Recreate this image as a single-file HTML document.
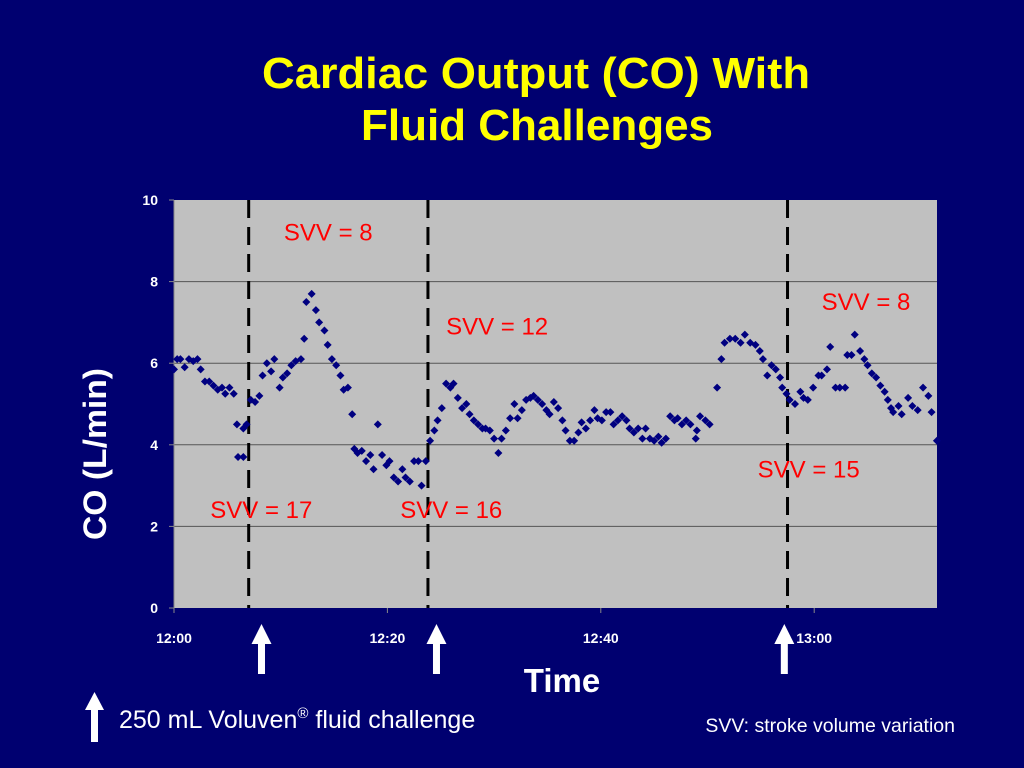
<!DOCTYPE html>
<html><head><meta charset="utf-8">
<style>
html,body{margin:0;padding:0;background:#000070;}
body{width:1024px;height:768px;overflow:hidden;position:relative;font-family:"Liberation Sans",Arial,sans-serif;}
</style></head>
<body>
<svg id="chart" width="1024" height="768" xmlns="http://www.w3.org/2000/svg" style="position:absolute;left:0;top:0">
<rect x="0" y="0" width="1024" height="768" fill="#000070"/>
<text x="536" y="88" fill="#ffff00" font-size="44" font-weight="bold" text-anchor="middle" textLength="548" lengthAdjust="spacingAndGlyphs">Cardiac Output (CO) With</text>
<text x="537" y="140" fill="#ffff00" font-size="44" font-weight="bold" text-anchor="middle">Fluid Challenges</text>
<rect x="174" y="200" width="763" height="408" fill="#c0c0c0"/>
<g id="grid"></g><g id="axes"></g><g id="vlines"></g><g id="points"></g><g id="ann"></g>
<text transform="translate(106,454) rotate(-90)" fill="#fff" font-size="32" font-weight="bold" text-anchor="middle" textLength="172" lengthAdjust="spacingAndGlyphs">CO (L/min)</text>
<text x="562" y="692" fill="#fff" font-size="33" font-weight="bold" text-anchor="middle">Time</text>
<g><rect x="91" y="708" width="7" height="34" fill="#fff"/><polygon points="85,710 104,710 94.5,692" fill="#fff"/></g>
<text x="119" y="728" fill="#fff" font-size="25">250 mL Voluven<tspan font-size="15" dy="-10">®</tspan><tspan dy="10"> fluid challenge</tspan></text>
<text x="955" y="732" fill="#fff" font-size="19.5" text-anchor="end">SVV: stroke volume variation</text>
</svg>
<script>
const yTicks=[0,2,4,6,8,10];
const xTickMinutes=[0,20,40,60];
const xTickLabels=["12:00","12:20","12:40","13:00"];
const challengeMinutes=[7.0,23.8,57.5];
const arrowMinutes=[8.2,24.6,57.2];
const svvLabels=["SVV = 17","SVV = 8","SVV = 16","SVV = 12","SVV = 15","SVV = 8"];
const svvMin=[3.4,10.3,21.2,25.5,54.7,60.7];
const svvVal=[2.4,9.2,2.4,6.9,3.4,7.5];
const times=[0,0.3,0.6,1.0,1.4,1.8,2.2,2.5,2.9,3.3,3.7,4.1,4.5,4.8,5.2,5.6,5.9,6.0,6.5,6.5,6.8,7.2,7.6,8.0,8.3,8.7,9.1,9.4,9.9,10.2,10.6,11.0,11.4,11.9,12.2,12.4,12.9,13.3,13.6,14.1,14.4,14.8,15.2,15.6,15.9,16.3,16.7,16.9,17.2,17.6,18.0,18.4,18.7,19.1,19.5,19.9,20.2,20.6,21.0,21.4,21.7,22.1,22.5,22.9,23.2,23.6,24.0,24.4,24.7,25.1,25.5,25.9,26.2,26.6,27.0,27.4,27.7,28.1,28.5,28.9,29.2,29.6,30.0,30.4,30.7,31.1,31.5,31.9,32.2,32.6,33.0,33.4,33.7,34.1,34.5,34.9,35.2,35.6,36.0,36.4,36.7,37.1,37.5,37.9,38.2,38.6,39.0,39.4,39.7,40.1,40.5,40.9,41.2,41.6,42.0,42.4,42.7,43.1,43.5,43.9,44.2,44.6,45.0,45.4,45.7,46.1,46.5,46.9,47.2,47.6,48.0,48.4,48.9,49.0,49.3,49.8,50.2,50.9,51.3,51.6,52.1,52.6,53.1,53.5,54.0,54.5,54.9,55.2,55.6,56.0,56.4,56.8,57.0,57.4,57.7,58.2,58.7,59.0,59.4,59.9,60.4,60.7,61.2,61.5,62.0,62.4,62.9,63.1,63.5,63.8,64.3,64.7,65.0,65.4,65.8,66.2,66.6,66.9,67.2,67.4,67.9,68.2,68.8,69.2,69.7,70.2,70.7,71.0,71.5];
const coValues=[5.85,6.1,6.1,5.9,6.1,6.05,6.1,5.85,5.55,5.55,5.45,5.35,5.4,5.25,5.4,5.25,4.5,3.7,4.4,3.7,4.5,5.1,5.05,5.2,5.7,6.0,5.8,6.1,5.4,5.65,5.75,5.95,6.05,6.1,6.6,7.5,7.7,7.3,7.0,6.8,6.45,6.1,5.95,5.7,5.35,5.4,4.75,3.9,3.8,3.85,3.6,3.75,3.4,4.5,3.75,3.5,3.6,3.2,3.1,3.4,3.2,3.1,3.6,3.6,3.0,3.6,4.1,4.35,4.6,4.9,5.5,5.4,5.5,5.15,4.9,5.0,4.75,4.6,4.5,4.4,4.4,4.35,4.15,3.8,4.15,4.35,4.65,5.0,4.65,4.85,5.1,5.15,5.2,5.1,5.0,4.85,4.75,5.05,4.9,4.6,4.35,4.1,4.1,4.3,4.55,4.4,4.6,4.85,4.65,4.6,4.8,4.8,4.5,4.6,4.7,4.6,4.4,4.3,4.4,4.15,4.4,4.15,4.1,4.2,4.05,4.15,4.7,4.6,4.65,4.5,4.6,4.5,4.15,4.35,4.7,4.6,4.5,5.4,6.1,6.5,6.6,6.6,6.5,6.7,6.5,6.45,6.3,6.1,5.7,5.95,5.85,5.65,5.4,5.25,5.1,5.0,5.3,5.15,5.1,5.4,5.7,5.7,5.85,6.4,5.4,5.4,5.4,6.2,6.2,6.7,6.3,6.1,5.95,5.75,5.65,5.45,5.3,5.1,4.9,4.8,4.95,4.75,5.15,4.95,4.85,5.4,5.2,4.8,4.1];

const NS="http://www.w3.org/2000/svg";
const X0=174,X1=937,Y0=608,Y1=200,PXM=10.67;
const xs=m=>X0+m*PXM;
const ys=v=>Y0-(v/10)*(Y0-Y1);
function mk(tag,attrs,parent,text){const e=document.createElementNS(NS,tag);for(const k in attrs)e.setAttribute(k,attrs[k]);if(text!==undefined)e.textContent=text;document.getElementById(parent).appendChild(e);return e;}

yTicks.forEach(v=>{
  if(v>0&&v<10){const g=mk('line',{x1:X0,x2:X1,y1:ys(v),y2:ys(v),stroke:'#555','stroke-width':1},'grid');
  
  }
  const t=mk('text',{x:158,y:ys(v)+5,fill:'#fff','font-size':14,'font-weight':'bold','text-anchor':'end'},'axes',String(v));
  
  
  mk('line',{x1:169,x2:174,y1:ys(v),y2:ys(v),stroke:'#888'},'axes');
});
const ax=mk('line',{x1:X0,x2:X0,y1:Y1,y2:Y0,stroke:'#888'},'axes');


xTickMinutes.forEach((m,i)=>{
  mk('line',{x1:xs(m),x2:xs(m),y1:Y0,y2:Y0+5,stroke:'#888'},'axes');
  const t=mk('text',{x:xs(m),y:643,fill:'#fff','font-size':14,'font-weight':'bold','text-anchor':'middle'},'axes',xTickLabels[i]);
  
  
});
challengeMinutes.forEach(m=>{
  const l=mk('line',{x1:xs(m),x2:xs(m),y1:Y1,y2:Y0,stroke:'#000','stroke-width':3,'stroke-dasharray':'18,9'},'vlines');
  
  
});
arrowMinutes.forEach(m=>{
  const x=xs(m);
  const g=mk('g',{},'ann');
  
  
  const r=document.createElementNS(NS,'rect');r.setAttribute('x',x-3.5);r.setAttribute('y',642);r.setAttribute('width',7);r.setAttribute('height',32);r.setAttribute('fill','#fff');g.appendChild(r);
  const p=document.createElementNS(NS,'polygon');p.setAttribute('points',`${x-10},644 ${x+10},644 ${x},624`);p.setAttribute('fill','#fff');g.appendChild(p);
});
times.forEach((m,i)=>{
  const x=xs(m),y=ys(coValues[i]);
  const p=mk('polygon',{points:`${x},${y-4} ${x+4},${y} ${x},${y+4} ${x-4},${y}`,fill:'#000080'},'points');
  
  
});
svvLabels.forEach((s,i)=>{
  const t=mk('text',{x:xs(svvMin[i]),y:ys(svvVal[i])+8,fill:'#ff0000','font-size':24},'ann',s);
  
  
});
</script>
</body></html>
